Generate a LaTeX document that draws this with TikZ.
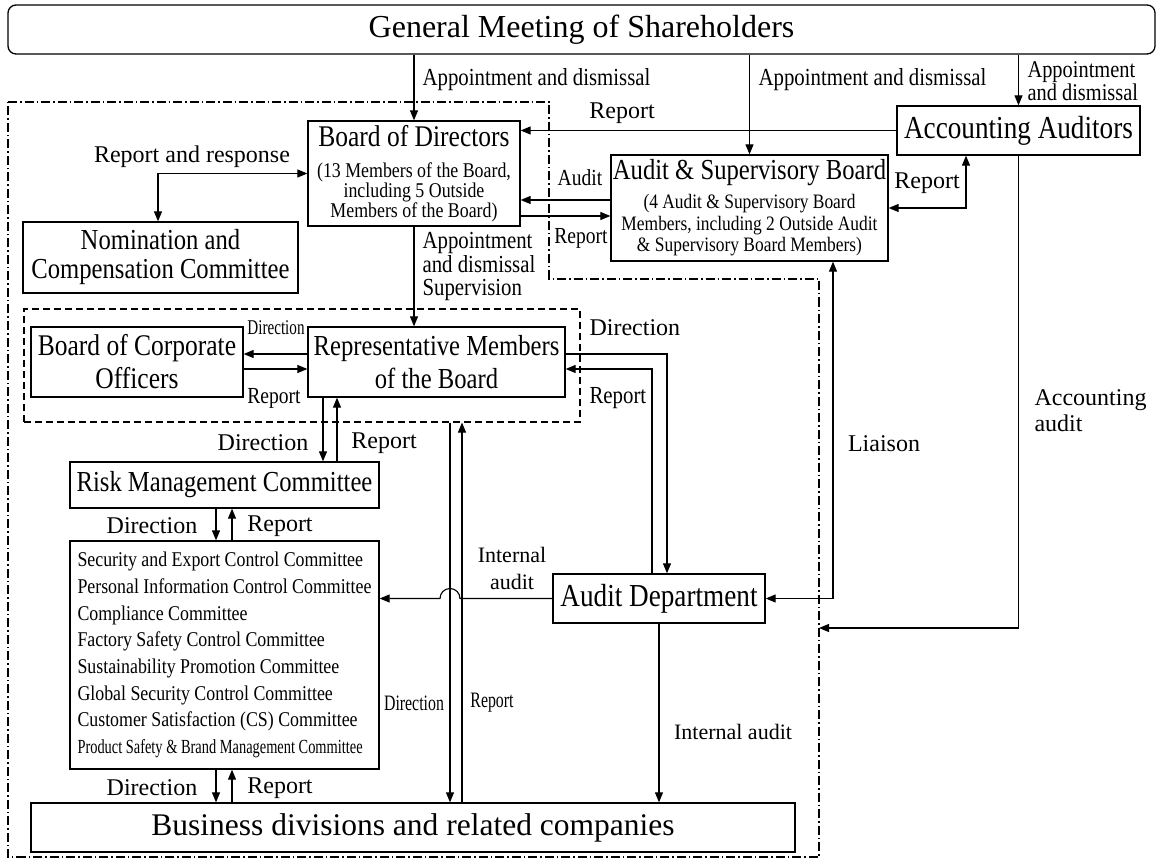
\documentclass[tikz,border=0pt]{standalone}
\usepackage{fontspec}
\setmainfont{Liberation Serif}
\newfontfamily\cnd[FakeStretch=0.85]{Liberation Serif}
\newfontfamily\xcnd[FakeStretch=0.72]{Liberation Serif}
\usetikzlibrary{arrows.meta}
\newcommand{\fsz}[2]{\fontsize{#1}{#2}\selectfont}

\tikzset{
  unit/.style={draw, line width=1.3pt, inner sep=0pt, align=center},
  lbl/.style={inner sep=0pt, align=center, font=\fsz{24}{24}},
  grpbox/.style={draw, line width=1.1pt, dash pattern=on 7pt off 4pt, inner sep=0pt},
  ddash/.style={line width=1.1pt, dash pattern=on 9pt off 3pt on 1.5pt off 3pt},
  arr/.style={-{Triangle[length=10pt,width=8pt]}},
  darr/.style={{Triangle[length=10pt,width=8pt]}-{Triangle[length=10pt,width=8pt]}},
}

\begin{document}
\begin{tikzpicture}[x=1pt, y=-1pt, line width=1.1pt]
    \useasboundingbox (0,0) rectangle (1158,858);
    \draw[ddash] (8,102) -- (549,102) -- (549,279) -- (819,279) -- (819,857) -- (8,857) -- cycle;
    \node[grpbox, minimum width=556pt, minimum height=113pt] (EX) at (302,365.5) {};

    \node[unit, rounded corners=8pt, minimum width=1147pt, minimum height=49pt, font=\fsz{32}{32}] (GM) at (581.5,29.5) {General Meeting of Shareholders};
    \node[unit, minimum width=212pt, minimum height=105pt, font=\cnd\fsz{21}{20}] (BD) at (414,173.5) {{\fsz{30}{30}Board of Directors}\\[11pt](13 Members of the Board,\\including 5 Outside\\Members of the Board)};
    \node[unit, minimum width=277pt, minimum height=106pt, font=\cnd\fsz{20.5}{21.5}] (ASB) at (749.5,208) {{\fsz{29}{29}Audit \& Supervisory Board}\\[7.5pt](4 Audit \& Supervisory Board\\Members, including 2 Outside Audit\\\& Supervisory Board Members)};
    \node[unit, minimum width=243pt, minimum height=49pt, font=\cnd\fsz{32}{32}] (AA) at (1018.5,130.5) {Accounting Auditors};
    \node[unit, minimum width=275pt, minimum height=71pt, font=\cnd\fsz{29}{29}] (NCC) at (160.5,257.5) {Nomination and\\Compensation Committee};
    \node[unit, minimum width=212pt, minimum height=70pt, font=\cnd\fsz{30}{33}] (BCO) at (137,362) {Board of Corporate\\Officers};
    \node[unit, minimum width=257pt, minimum height=70pt, font=\cnd\fsz{29}{33}] (RMB) at (436.5,362) {Representative Members\\of the Board};
    \node[unit, minimum width=309pt, minimum height=46pt, font=\cnd\fsz{29}{29}] (RMC) at (224.5,485) {Risk Management Committee};
    \node[unit, minimum width=309pt, minimum height=228pt, align=left, font=\cnd\fsz{21}{26.7}] (CC) at (224.5,655) {Security and Export Control Committee\\Personal Information Control Committee\\Compliance Committee\\Factory Safety Control Committee\\Sustainability Promotion Committee\\Global Security Control Committee\\Customer Satisfaction (CS) Committee\\{\xcnd\fsz{20}{26.7}Product Safety \& Brand Management Committee}};
    \node[unit, minimum width=212pt, minimum height=49pt, font=\cnd\fsz{32}{32}] (AD) at (659,598.5) {Audit Department};
    \node[unit, minimum width=764pt, minimum height=49pt, font=\fsz{31.5}{31.5}] (BRC) at (413,827.5) {Business divisions and related companies};

    \coordinate (nomx) at (158,0);
    \coordinate (rdx) at (323,0);
    \coordinate (rrx) at (337,0);
    \coordinate (cdx) at (216,0);
    \coordinate (crx) at (232,0);
    \coordinate (ldx) at (450,0);
    \coordinate (lrx) at (462,0);
    \coordinate (dax) at (667,0);
    \coordinate (rax) at (652,0);
    \coordinate (aax) at (966,0);
    \coordinate (lix) at (833,0);
    \coordinate (audy) at (0,200);
    \coordinate (repy) at (0,216);
    \coordinate (diry) at (0,354);
    \coordinate (rpty) at (0,369);
    \coordinate (hopr) at (460,598.5);
    \coordinate (acc) at (819,628);

    \draw[arr] (GM.south -| BD.north) -- (BD.north);
    \draw[arr] (GM.south -| ASB.north) -- (ASB.north);
    \draw[arr] (GM.south -| AA.north) -- (AA.north);
    \draw[arr] (AA.west) -- (AA.west -| BD.east);
    \draw[darr] (NCC.north -| nomx) |- (BD.west);
    \draw[arr] (ASB.west |- audy) -- (BD.east |- audy);
    \draw[arr] (BD.east |- repy) -- (ASB.west |- repy);
    \draw[darr] (ASB.east) -| (AA.south -| aax);
    \draw[arr] (BD.south) -- (BD.south |- RMB.north);
    \draw[arr] (RMB.west |- diry) -- (BCO.east |- diry);
    \draw[arr] (BCO.east |- rpty) -- (RMB.west |- rpty);
    \draw[arr] (RMB.east |- diry) -| (AD.north -| dax);
    \draw[arr] (AD.north -| rax) |- (RMB.east |- rpty);
    \draw[arr] (RMB.south -| rdx) -- (RMC.north -| rdx);
    \draw[arr] (RMC.north -| rrx) -- (RMB.south -| rrx);
    \draw[arr] (RMC.south -| cdx) -- (CC.north -| cdx);
    \draw[arr] (CC.north -| crx) -- (RMC.south -| crx);
    \draw[arr] (CC.south -| cdx) -- (BRC.north -| cdx);
    \draw[arr] (BRC.north -| crx) -- (CC.south -| crx);
    \draw[arr] (EX.south -| ldx) -- (BRC.north -| ldx);
    \draw[arr] (BRC.north -| lrx) -- (EX.south -| lrx);
    \draw[arr] (AD.west) -- (hopr) arc[start angle=0, end angle=180, radius=10pt] -- (CC.east |- AD.west);
    \draw[darr] (ASB.south -| lix) |- (AD.east);
    \draw[arr] (AA.south) |- (acc);
    \draw[arr] (AD.south) -- (AD.south |- BRC.north);

    \node[lbl, font=\cnd\fsz{24.5}{24}, anchor=west] (apd1) at (422,80) {Appointment and dismissal};
    \node[lbl, font=\cnd\fsz{24.5}{24}, anchor=west] (apd2) at (758,80) {Appointment and dismissal};
    \node[lbl, font=\cnd\fsz{24}{23}, anchor=west, align=left] (apd3) at (1027,81.5) {Appointment\\and dismissal};
    \node[lbl] (rpt1) at (622,113) {Report};
    \node[lbl] (rar) at (192,157) {Report and response};
    \node[lbl, font=\cnd\fsz{23}{23}] (aud) at (580,178) {Audit};
    \node[lbl, font=\cnd\fsz{23}{23}] (rpt2) at (581,238) {Report};
    \node[lbl] (rpt3) at (927,183) {Report};
    \node[lbl, font=\cnd\fsz{24.5}{23.5}, anchor=west, align=left] (apd4) at (422,266.5) {Appointment\\and dismissal\\Supervision};
    \node[lbl, font=\xcnd\fsz{21}{21}] (dir1) at (276,328) {Direction};
    \node[lbl, font=\cnd\fsz{23}{23}] (rpt4) at (274,398) {Report};
    \node[lbl, anchor=west] (dir2) at (589,328) {Direction};
    \node[lbl, font=\cnd\fsz{24.5}{24}, anchor=west] (rpt5) at (589,398) {Report};
    \node[lbl] (dir3) at (263,443) {Direction};
    \node[lbl] (rpt6) at (384,443) {Report};
    \node[lbl] (dir4) at (152,526) {Direction};
    \node[lbl] (rpt7) at (280,526) {Report};
    \node[lbl] (dir5) at (152,788) {Direction};
    \node[lbl] (rpt8) at (280,788) {Report};
    \node[lbl, font=\fsz{22}{27}] (iau1) at (512,568.5) {Internal\\audit};
    \node[lbl] (lia) at (884,444) {Liaison};
    \node[lbl, font=\fsz{24}{26}, anchor=west, align=left] (acca) at (1034,411) {Accounting\\audit};
    \node[lbl, font=\xcnd\fsz{22}{22}] (dir6) at (414,703) {Direction};
    \node[lbl, font=\xcnd\fsz{22}{22}] (rpt9) at (492,703) {Report};
    \node[lbl, font=\fsz{22}{22}] (iau2) at (733,732) {Internal audit};
\end{tikzpicture}
\end{document}
